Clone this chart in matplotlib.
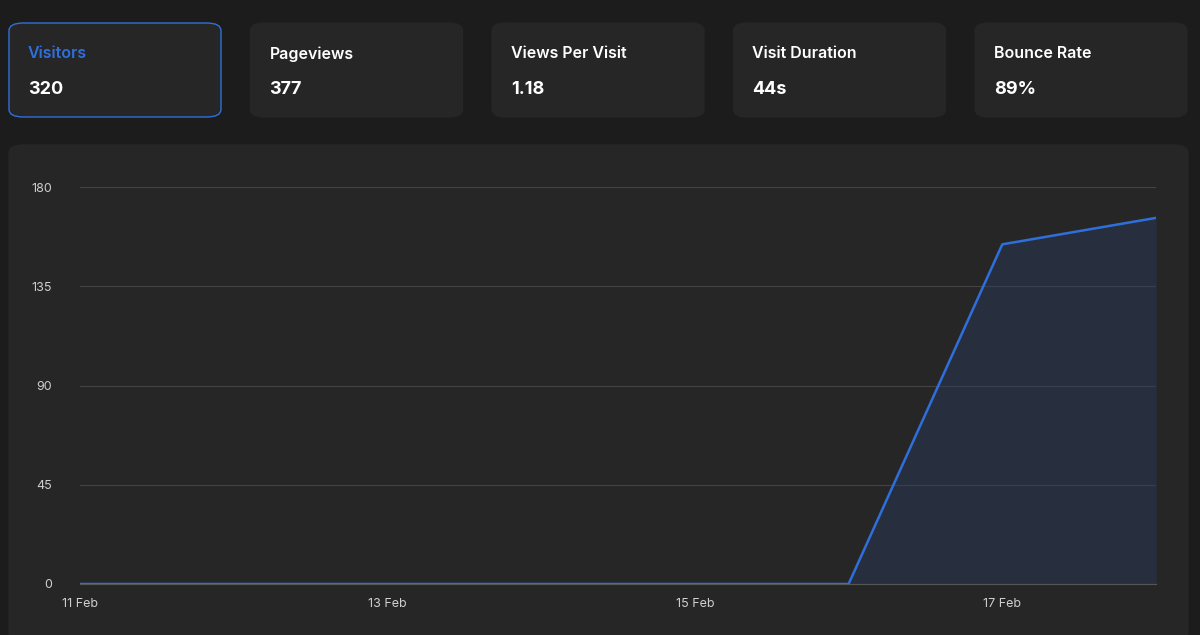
import matplotlib.pyplot as plt
from matplotlib.patches import FancyBboxPatch

days = ['11 Feb', '12 Feb', '13 Feb', '14 Feb', '15 Feb', '16 Feb', '17 Feb', '18 Feb']
visitors = [0, 0, 0, 0, 0, 0, 154, 166]
card_titles = ['Visitors', 'Pageviews', 'Views Per Visit', 'Visit Duration', 'Bounce Rate']
card_values = ['320', '377', '1.18', '44s', '89%']
y_ticks = [0, 45, 90, 135, 180]

W, H = 1200, 635
bg = '#1c1c1c'
card = '#262626'
blue = '#2f6fdc'

fig = plt.figure(figsize=(12, 6.35), dpi=100, facecolor=bg)
plt.rcParams['font.family'] = ['Inter', 'DejaVu Sans']

def fx(px):
    return px / W

def fy(py):
    return 1 - py / H

# stat cards
for i, (t, v) in enumerate(zip(card_titles, card_values)):
    x0 = 9 + i * 241.5
    sel = i == 0
    box = FancyBboxPatch((fx(x0), fy(117)), fx(212), 94 / H,
                         boxstyle='round,pad=0,rounding_size=0.012',
                         transform=fig.transFigure, facecolor=card,
                         edgecolor=blue if sel else card, linewidth=1, zorder=-2)
    fig.patches.append(box)
    fig.text(fx(x0 + 19), fy(54), t, color=blue if sel else 'white',
             fontsize=11.5, fontweight='semibold', va='center')
    fig.text(fx(x0 + 19), fy(89), v, color='white', fontsize=13,
             fontweight='bold', va='center')

# chart card
panel = FancyBboxPatch((fx(9), fy(640)), fx(1179), 495 / H,
                       boxstyle='round,pad=0,rounding_size=0.012',
                       transform=fig.transFigure, facecolor=card, edgecolor=card,
                       zorder=-2)
fig.patches.append(panel)

ax = fig.add_axes([fx(80), fy(584), fx(1076), 397 / H])
ax.set_facecolor(card)
x = list(range(len(days)))
ax.plot(x, visitors, color=blue, linewidth=1.8, zorder=3)
ax.fill_between(x, visitors, color='#2a3a5c', alpha=0.45, linewidth=0)
ax.set_xlim(0, len(days) - 1)
ax.set_ylim(0, 180)
ax.set_yticks(y_ticks)
ax.set_xticks(x[::2])
ax.set_xticklabels(days[::2])
ax.grid(axis='y', color='#444444', linewidth=0.8)
ax.set_axisbelow(True)
for s in ['top', 'right', 'left']:
    ax.spines[s].set_visible(False)
ax.spines['bottom'].set_color('#555555')
ax.tick_params(colors='#cfcfcf', labelsize=9, length=0)
ax.tick_params(axis='y', pad=20)
ax.tick_params(axis='x', pad=10)

fig.savefig('out.png', dpi=100, facecolor=bg)
